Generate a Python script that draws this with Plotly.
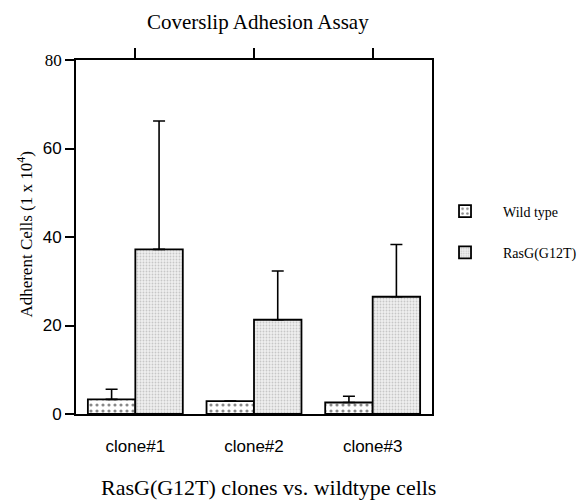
import plotly.graph_objects as go

categories = ["clone#1", "clone#2", "clone#3"]
wild_type = [3.3, 2.9, 2.6]
wild_type_err = [2.3, 0.0, 1.4]
rasg = [37.2, 21.3, 26.5]
rasg_err = [29.0, 11.0, 11.8]
y_ticks = [0, 20, 40, 60, 80]
y_tick_text = ["0", "20", "40", "60",
               "<span style='font-family:Liberation Serif'>80</span>"]

serif = "Liberation Serif, Times New Roman, serif"
sans = "Liberation Sans, Arial, sans-serif"

fig = go.Figure()
fig.add_trace(go.Bar(
    x=categories, y=wild_type, name="Wild type",
    marker=dict(color="white", line=dict(color="black", width=1.8),
                pattern=dict(shape=".", fgcolor="#111", bgcolor="white", size=6, solidity=0.22)),
    error_y=dict(type="data", symmetric=False, array=wild_type_err, arrayminus=[0, 0, 0],
                 color="black", thickness=1.6, width=6),
    legendgroup="a",
))
fig.add_trace(go.Bar(
    x=categories, y=rasg, name="RasG(G12T)",
    marker=dict(color="#ececec", line=dict(color="black", width=1.8),
                pattern=dict(shape=".", fgcolor="#a0a0a0", bgcolor="#efefef", size=3, solidity=0.3)),
    error_y=dict(type="data", symmetric=False, array=rasg_err, arrayminus=[0, 0, 0],
                 color="black", thickness=1.6, width=6),
    legendgroup="b",
))
# invisible trace carrying the top axis ticks
fig.add_trace(go.Scatter(x=categories, y=[None] * 3, xaxis="x2", showlegend=False,
                         hoverinfo="skip"))

fig.update_layout(
    width=585, height=501,
    paper_bgcolor="white", plot_bgcolor="white",
    margin=dict(l=68, r=161, t=52, b=95, autoexpand=False),
    barmode="group", bargap=0.2, bargroupgap=0,
    showlegend=True,
    xaxis=dict(showline=True, linecolor="black", linewidth=1.8, ticks="",
               ticklabelstandoff=16,
               tickfont=dict(family=sans, size=17, color="black")),
    xaxis2=dict(overlaying="x", side="top", matches="x", showline=True, linecolor="black",
                linewidth=1.8, ticks="outside", ticklen=10, tickwidth=1.8, tickcolor="black",
                showticklabels=False),
    yaxis=dict(range=[0, 80], tickvals=y_ticks, ticktext=y_tick_text,
               showline=True, linecolor="black", linewidth=1.8,
               mirror=True, ticks="outside", ticklen=9, tickwidth=1.8, tickcolor="black",
               showgrid=False, zeroline=False,
               tickfont=dict(family=sans, size=17, color="black")),
    legend=dict(x=0.986, y=0.617, xanchor="left", yanchor="top", itemwidth=66,
                font=dict(family=serif, size=14, color="black"),
                tracegroupgap=20, bgcolor="rgba(0,0,0,0)"),
    annotations=[
        dict(text="Coverslip Adhesion Assay", xref="paper", yref="paper",
             x=0.51, y=1.147, xanchor="center", yanchor="top", showarrow=False,
             font=dict(family=serif, size=21, color="black")),
        dict(text="RasG(G12T) clones vs. wildtype cells", xref="paper", yref="paper",
             x=0.541, y=-0.209, xanchor="center", yanchor="middle", showarrow=False,
             font=dict(family=serif, size=22, color="black")),
        dict(text="Adherent Cells (1 x 10<sup>4</sup>)", xref="paper", yref="paper",
             x=-0.142, y=0.508, xanchor="center", yanchor="middle", textangle=-90,
             showarrow=False, font=dict(family=serif, size=17, color="black")),
    ],
)

fig.write_html("out.html")
